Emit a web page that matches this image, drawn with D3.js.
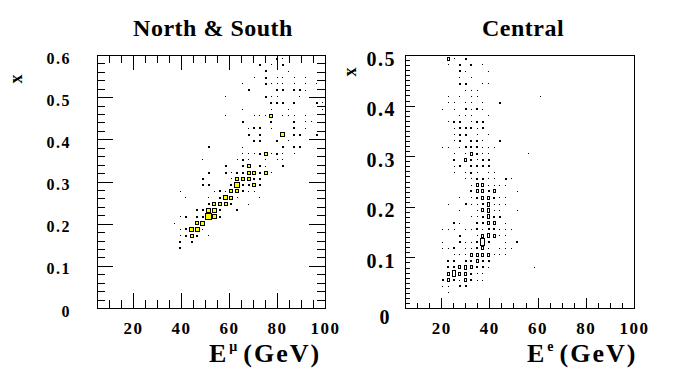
<!DOCTYPE html>
<html>
<head>
<meta charset="utf-8">
<script src="https://cdn.jsdelivr.net/npm/d3@7"></script>
<style>
body{margin:0;background:#fff;}
svg{display:block;}
svg text{font-family:"Liberation Serif","DejaVu Serif","Times New Roman",serif;font-weight:bold;}
</style>
</head>
<body>
<svg id="chart" width="695" height="383"></svg>
<script>
// both histograms: 40 bins in E (5-100 GeV) and 40 bins in x
const eRange = [5, 100];
const nBinsE = 40;
const nBinsX = 40;
const nsXRange = [0, 0.6];
const cXRange = [0, 0.5];

const eMajor = [20, 40, 60, 80, 100];
const nsXMajor = [0, 0.1, 0.2, 0.3, 0.4, 0.5, 0.6];
const cXMajor = [0, 0.1, 0.2, 0.3, 0.4, 0.5];

const titles = ['North & South', 'Central'];

// cells: [E bin, x bin, content]
const nsCells = [
  [31,39,2],[32,39,1],
  [28,38,2],[30,38,1],[32,38,2],
  [29,37,2],[33,37,1],
  [27,36,1],[29,36,2],[31,36,1],[32,36,1],[34,36,1],[36,36,1],
  [25,35,1],[29,35,2],[30,35,1],[31,35,1],[32,35,1],[34,35,1],[36,35,1],[38,35,1],
  [26,34,2],[31,34,2],[32,34,2],[34,34,2],[35,34,2],[36,34,1],
  [22,33,1],[29,33,2],[30,33,1],[31,33,1],[35,33,1],
  [30,32,2],[31,32,2],[32,32,2],[34,32,2],[38,32,2],[39,32,1],
  [25,31,1],[30,31,1],[33,31,1],[39,31,1],
  [22,30,1],[27,30,1],[28,30,1],[29,30,1],[30,30,4],[32,30,1],[33,30,1],[34,30,1],[36,30,1],
  [25,29,2],[30,29,2],[34,29,2],[36,29,1],[37,29,1],
  [26,28,1],[27,28,2],[28,28,2],[30,28,1],[34,28,2],[36,28,1],
  [26,27,2],[28,27,2],[32,27,5],[34,27,2],[35,27,2],[38,27,2],
  [27,26,2],[28,26,2],[31,26,2],[33,26,1],
  [19,25,2],[25,25,1],[32,25,2],[34,25,2],[35,25,2],
  [25,24,1],[26,24,1],[27,24,1],[28,24,2],[29,24,4],[30,24,1],[31,24,2],[32,24,1],[34,24,1],
  [18,23,1],[24,23,1],[25,23,2],[26,23,1],[29,23,1],[31,23,1],[32,23,1],
  [22,22,2],[25,22,2],[26,22,4],[28,22,2],[29,22,1],[32,22,2],
  [19,21,2],[22,21,2],[23,21,1],[24,21,2],[25,21,2],[26,21,4],[27,21,4],[28,21,2],[29,21,4],[30,21,1],
  [18,20,2],[23,20,1],[24,20,4],[25,20,4],[26,20,4],[27,20,2],[28,20,2],
  [18,19,2],[19,19,2],[23,19,2],[24,19,6],[25,19,2],[26,19,2],[27,19,4],[28,19,2],
  [14,18,1],[20,18,1],[21,18,2],[22,18,1],[23,18,4],[24,18,4],[25,18,2],[26,18,1],[27,18,1],
  [15,17,1],[19,17,1],[21,17,2],[22,17,5],[23,17,4],[24,17,1],[28,17,1],
  [19,16,2],[20,16,4],[21,16,4],[22,16,4],[23,16,2],[26,16,1],
  [17,15,2],[18,15,2],[19,15,5],[20,15,5],[21,15,2],[24,15,2],
  [14,14,1],[15,14,2],[17,14,2],[18,14,2],[19,14,7],[20,14,5],[21,14,2],
  [13,13,1],[17,13,4],[18,13,5],
  [14,12,1],[15,12,2],[16,12,5],[17,12,5],[18,12,1],
  [14,11,1],[15,11,2],[16,11,4],[17,11,2],[19,11,1],
  [14,10,2],[16,10,2],
  [14,9,2]
];

const cCells = [
  [7,39,3],[8,39,1],[10,39,2],
  [7,38,1],[9,38,2],[11,38,2],[13,38,1],
  [9,37,2],[10,37,1],[14,37,1],
  [9,36,1],[11,36,1],
  [9,35,2],[10,35,2],[13,35,1],[14,35,1],
  [10,34,1],[11,34,1],[12,34,1],
  [7,33,1],[9,33,1],[11,33,1],[12,33,1],[23,33,1],
  [7,32,1],[8,32,1],[10,32,1],[11,32,1],[13,32,1],[16,32,2],
  [6,31,1],[8,31,1],[10,31,2],[11,31,1],[12,31,2],[13,31,1],
  [9,30,1],[10,30,1],[11,30,1],[14,30,1],
  [7,29,1],[8,29,2],[9,29,2],[11,29,1],[12,29,2],[13,29,2],
  [8,28,1],[9,28,2],[10,28,2],[11,28,2],[12,28,1],[13,28,2],
  [8,27,1],[9,27,2],[10,27,2],[12,27,1],[14,27,1],
  [8,26,1],[9,26,2],[11,26,2],[12,26,2],[13,26,1],[16,26,2],
  [6,25,1],[7,25,1],[9,25,1],[10,25,2],[11,25,2],[12,25,2],[13,25,1],[14,25,1],[15,25,1],
  [8,24,1],[10,24,1],[11,24,3],[12,24,2],[13,24,1],[14,24,1],[21,24,1],
  [8,23,2],[10,23,3],[11,23,2],[12,23,1],[13,23,2],[14,23,2],
  [8,22,1],[9,22,2],[11,22,2],[12,22,2],[13,22,2],[14,22,2],
  [8,21,1],[10,21,1],[11,21,2],[12,21,1],[14,21,1],[15,21,1],
  [10,20,1],[11,20,1],[12,20,2],[13,20,2],[14,20,1],[15,20,1],[17,20,2],[18,20,1],
  [11,19,1],[12,19,3],[13,19,3],[14,19,1],[15,19,1],[16,19,1],[17,19,1],
  [11,18,2],[12,18,3],[13,18,3],[14,18,2],[15,18,3],[19,18,1],
  [9,17,1],[11,17,1],[12,17,2],[13,17,3],[14,17,3],[15,17,2],[16,17,1],[17,17,1],
  [7,16,1],[10,16,2],[11,16,1],[12,16,1],[13,16,2],[14,16,4],[15,16,1],[16,16,1],[17,16,1],
  [9,15,1],[12,15,1],[13,15,3],[14,15,4],[15,15,1],[16,15,1],[19,15,1],
  [11,14,1],[12,14,1],[13,14,2],[14,14,4],[15,14,2],[16,14,2],
  [8,13,2],[9,13,1],[12,13,2],[13,13,2],[14,13,3],[15,13,3],[17,13,1],
  [6,12,1],[7,12,1],[8,12,1],[10,12,1],[11,12,1],[12,12,2],[13,12,1],[14,12,2],[15,12,2],[16,12,1],[17,12,1],[18,12,1],
  [9,11,2],[12,11,1],[13,11,3],[14,11,4],[15,11,3],[16,11,1],[17,11,1],
  [6,10,1],[9,10,2],[10,10,1],[11,10,1],[12,10,2],[13,10,6],[14,10,2],[17,10,1],[19,10,2],
  [6,9,1],[7,9,1],[8,9,2],[10,9,1],[11,9,1],[12,9,2],[13,9,3],[14,9,1],[16,9,1],[17,9,1],[18,9,1],
  [8,8,1],[9,8,1],[10,8,1],[11,8,3],[12,8,3],[13,8,3],[14,8,3],[15,8,1],[16,8,1],[17,8,1],
  [7,7,2],[8,7,2],[10,7,2],[11,7,2],[12,7,3],[13,7,2],[14,7,2],
  [7,6,2],[8,6,2],[9,6,3],[10,6,4],[11,6,3],[12,6,2],[13,6,2],[14,6,1],[22,6,1],
  [7,5,3],[8,5,5],[9,5,3],[10,5,3],[11,5,2],[12,5,1],[13,5,1],
  [6,4,2],[7,4,3],[8,4,2],[9,4,1],[10,4,3],[11,4,2],[12,4,1],[13,4,1],
  [6,3,1],[7,3,1],[9,3,2],[10,3,2],
  [7,2,1]
];

const svg = d3.select('#chart');

function drawPanel(p){
  const x = d3.scaleLinear().domain(eRange).range([p.left, p.right]);
  const y = d3.scaleLinear().domain(p.xRange).range([p.bottom, p.top]);
  const dE = (eRange[1] - eRange[0]) / nBinsE;
  const dX = (p.xRange[1] - p.xRange[0]) / nBinsX;
  const g = svg.append('g');

  //boxes, black outline with coloured inside when big enough
  g.selectAll('.cell')
    .data(p.cells)
    .enter()
    .append('g')
    .attr('class','cell')
    .each(function(d){
      const cx = x(eRange[0] + (d[0] + 0.5) * dE) + 0.5;
      const cy = y(p.xRange[0] + (d[1] + 0.5) * dX) + 0.5;
      const w = Math.max(1, Math.round(p.boxW(d[2])));
      const h = Math.max(1, Math.round(p.boxH(d[2])));
      const x0 = Math.round(cx - w/2);
      const y0 = Math.round(cy - h/2);
      const cell = d3.select(this);
      cell.append('rect')
        .attr('x',x0).attr('y',y0)
        .attr('width',w).attr('height',h)
        .attr('fill','#000');
      if(w > 2 && h > 2){
        cell.append('rect')
          .attr('x',x0+1).attr('y',y0+1)
          .attr('width',w-2).attr('height',h-2)
          .attr('fill',p.fill);
      }
    });

  //frame
  g.append('rect')
    .attr('x',p.left+0.5).attr('y',p.top+0.5)
    .attr('width',p.right-p.left).attr('height',p.bottom-p.top)
    .attr('fill','none').attr('stroke','#000')
    .attr('shape-rendering','crispEdges');

  const eMinor = d3.range(10, 100, 5).filter(v => eMajor.indexOf(v) < 0);
  const xMinor = d3.range(1, Math.round(p.xRange[1] / p.xStep)).map(i => +(i * p.xStep).toFixed(3));

  const styleAxis = function(sel, size){
    sel.select('.domain').remove();
    sel.attr('font-family',null).attr('font-size',size);
    sel.selectAll('line').attr('shape-rendering','crispEdges');
  };

  const sides = [
    {axis:d3.axisBottom, at:`translate(0,${p.bottom})`, scale:x, major:eMajor, minor:eMinor, len:p.eTick, labels:true},
    {axis:d3.axisLeft, at:`translate(${p.left},0)`, scale:y, major:p.xMajor, minor:xMinor, len:p.xTick, labels:true}
  ];
  if(p.allSides){
    sides.push({axis:d3.axisTop, at:`translate(0,${p.top})`, scale:x, major:eMajor, minor:eMinor, len:p.eTick});
    sides.push({axis:d3.axisRight, at:`translate(${p.right},0)`, scale:y, major:p.xMajor, minor:xMinor, len:p.xTick});
  }

  sides.forEach(function(s){
    g.append('g').attr('transform',s.at)
      .call(s.axis(s.scale).tickValues(s.minor).tickSize(-s.len[1]).tickFormat(''))
      .call(styleAxis, 10);
    const maj = s.axis(s.scale).tickValues(s.major).tickSize(-s.len[0]);
    if(s.labels){
      if(s.scale === x){
        maj.tickPadding(p.ePad).tickFormat(d3.format('d'));
      }else{
        maj.tickPadding(p.xPad).tickFormat(d => d === 0 ? '0' : d3.format('.1f')(d));
      }
    }else{
      maj.tickFormat('');
    }
    const ax = g.append('g').attr('transform',s.at).call(maj);
    ax.call(styleAxis, s.scale === x ? p.eFont : p.xFont);
    ax.selectAll('text').attr('letter-spacing', 1.5);
    if(s.labels && s.scale === y){
      ax.selectAll('text').attr('dy','0.5em');
      ax.selectAll('.tick').filter(d => d === 0).select('text')
        .attr('dy',p.zeroDy).attr('dx',p.zeroDx);
    }
  });

  //title
  svg.append('text')
    .attr('x',p.titleX).attr('y',36)
    .attr('text-anchor','middle')
    .attr('font-size',24)
    .attr('letter-spacing',0.5)
    .text(p.title);

  //y title
  svg.append('text')
    .attr('transform',`translate(${p.yTitleX},${p.yTitleY}) rotate(-90)`)
    .attr('text-anchor','middle')
    .attr('font-size',18)
    .text('x');

  //x title with superscript
  const t = svg.append('text')
    .attr('x',p.xTitleX).attr('y',362)
    .attr('font-size',26);
  t.append('tspan').text('E');
  t.append('tspan').attr('font-size',14).attr('dx',3).attr('dy',-11).text(p.sup);
  t.append('tspan').attr('dx',6).attr('dy',11).attr('letter-spacing',2).text('(GeV)');
}

drawPanel({
  title:titles[0], titleX:213, sup:'\u03bc', xTitleX:209, yTitleX:22, yTitleY:79,
  left:97, right:325, top:55, bottom:308,
  xRange:nsXRange, xMajor:nsXMajor, xStep:0.02,
  cells:nsCells, fill:'#ffff00',
  boxW:d3.scaleLinear().domain([0,7]).range([0,7]),
  boxH:d3.scaleLinear().domain([0,7]).range([0,7]),
  eTick:[15,8], xTick:[16,8], allSides:true,
  ePad:14, xPad:26, eFont:17, xFont:16, zeroDy:'0.5em', zeroDx:0
});

drawPanel({
  title:titles[1], titleX:523, sup:'e', xTitleX:527, yTitleX:356, yTitleY:72,
  left:405, right:634, top:55, bottom:308,
  xRange:cXRange, xMajor:cXMajor, xStep:0.01,
  cells:cCells, fill:'#fff',
  boxW:d3.scaleLinear().domain([1,6]).range([1,5]),
  boxH:d3.scaleLinear().domain([1,6]).range([1,8]),
  eTick:[10,5], xTick:[10,5], allSides:false,
  ePad:14, xPad:9, eFont:17, xFont:20, zeroDy:'0.75em', zeroDx:-5
});
</script>
</body>
</html>
